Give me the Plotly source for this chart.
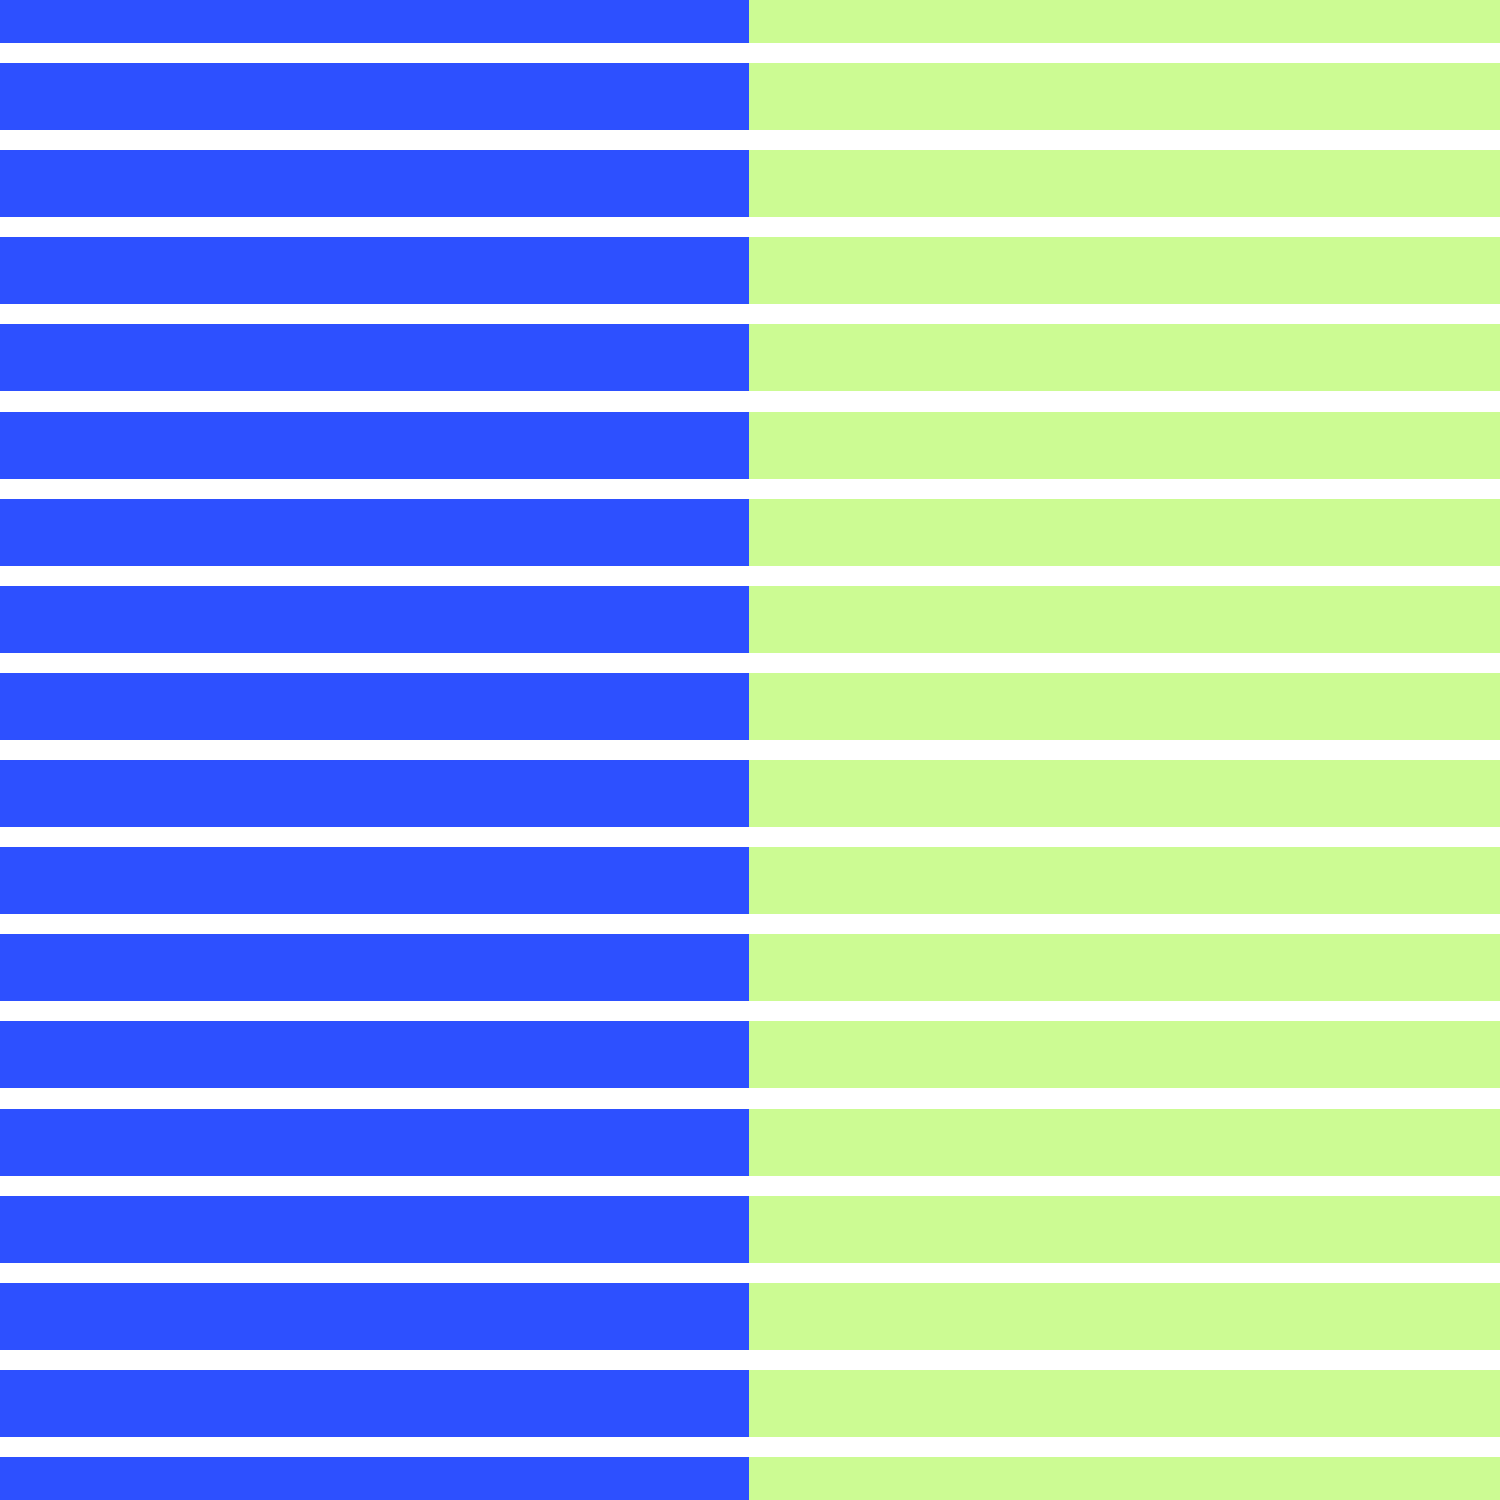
import plotly.graph_objects as go

rows = list(range(18))
blue_vals = [49.93] * 18
green_vals = [50.07] * 18

fig = go.Figure()
fig.add_trace(go.Bar(y=rows, x=blue_vals, orientation='h', marker=dict(color='#2D50FF', line=dict(width=0)), width=0.769, showlegend=False))
fig.add_trace(go.Bar(y=rows, x=green_vals, orientation='h', marker=dict(color='#CCFB93', line=dict(width=0)), width=0.769, showlegend=False))

fig.update_layout(
    barmode='stack',
    width=1500, height=1500,
    margin=dict(l=0, r=0, t=0, b=0),
    paper_bgcolor='white', plot_bgcolor='white',
    xaxis=dict(range=[0, 100], visible=False, fixedrange=True),
    yaxis=dict(range=[17.109, -0.1076], visible=False, fixedrange=True),
)

# drop the page's default body margin so the plot starts at the corner
fig.write_html("out.html", config={'displayModeBar': False},
               post_script="document.body.style.margin='0';document.body.style.overflow='hidden';")
